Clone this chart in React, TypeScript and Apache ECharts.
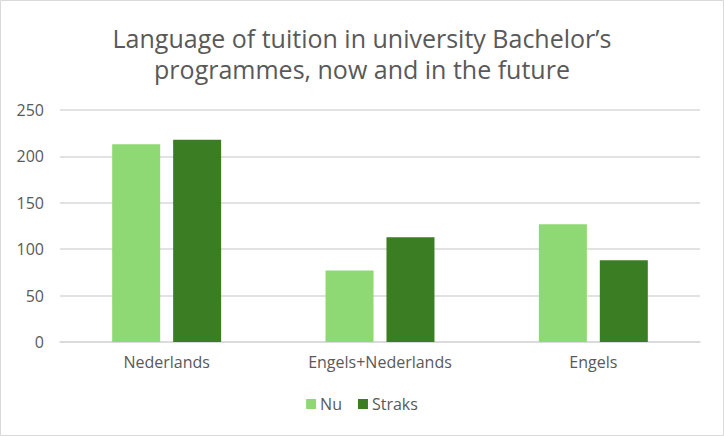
import React, { useEffect, useRef } from "react";
import * as echarts from "echarts";

const categories = ["Nederlands", "Engels+Nederlands", "Engels"];
const nuValues = [213, 77, 127];
const straksValues = [218, 113, 88];
const yTicks = { min: 0, max: 250, interval: 50 };
const titleText = "Language of tuition in university Bachelor’s\nprogrammes, now and in the future";

export default function App() {
  const ref = useRef<HTMLDivElement>(null);
  useEffect(() => {
    if (!ref.current) return;
    const chart = echarts.init(ref.current, null, { renderer: "svg" });
    const font = "'Open Sans', 'Noto Sans', sans-serif";
    chart.setOption({
      animation: false,
      backgroundColor: "#ffffff",
      textStyle: { fontFamily: font },
      title: {
        text: titleText,
        left: "center",
        top: 22,
        padding: 0,
        textStyle: {
          fontFamily: font,
          fontSize: 25,
          fontWeight: "normal",
          color: "#595959",
          lineHeight: 31,
        },
      },
      graphic: [
        {
          type: "rect",
          shape: { x: 0.5, y: 0.5, width: 723, height: 435 },
          style: { fill: "none", stroke: "#d9d9d9", lineWidth: 1 },
          silent: true,
        },
      ],
      legend: {
        top: 391,
        left: "center",
        itemWidth: 10,
        itemHeight: 10,
        itemGap: 16,
        icon: "rect",
        textStyle: { fontSize: 16, color: "#595959", fontFamily: font, padding: [0, 0, 0, -1] },
        data: ["Nu", "Straks"],
      },
      grid: { left: 60, right: 24, top: 110, bottom: 94 },
      xAxis: {
        type: "category",
        data: categories,
        axisTick: { show: false },
        axisLine: { lineStyle: { color: "#d9d9d9", width: 1.5 } },
        axisLabel: { color: "#595959", fontSize: 16, margin: 12, fontFamily: font },
      },
      yAxis: {
        type: "value",
        min: yTicks.min,
        max: yTicks.max,
        interval: yTicks.interval,
        axisLine: { show: false },
        axisTick: { show: false },
        splitLine: { lineStyle: { color: "#d9d9d9", width: 1.5 } },
        axisLabel: { color: "#595959", fontSize: 16, margin: 16, fontFamily: font },
      },
      series: [
        {
          name: "Nu",
          type: "bar",
          data: nuValues,
          barWidth: 48,
          barGap: "27%",
          itemStyle: { color: "#8ED973" },
        },
        {
          name: "Straks",
          type: "bar",
          data: straksValues,
          barWidth: 48,
          itemStyle: { color: "#3A7D22" },
        },
      ],
    });
    return () => chart.dispose();
  }, []);
  return (
    <div
      ref={ref}
      style={{ position: "fixed", left: 0, top: 0, width: 724, height: 436 }}
    />
  );
}
